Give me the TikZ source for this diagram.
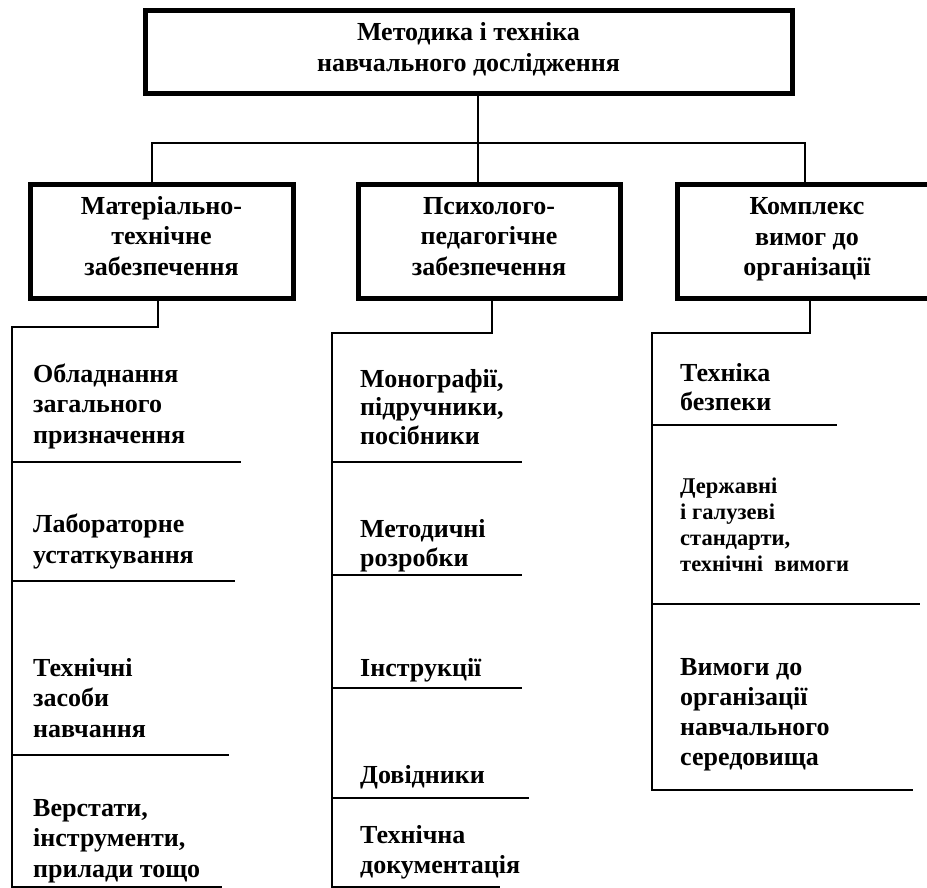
\documentclass[tikz,border=0pt]{standalone}
\usepackage{fontspec}
\setmainfont{Liberation Serif}
\begin{document}
\begin{tikzpicture}[x=1pt,y=-1pt,
  conn/.style={line width=2pt},
  bx/.style={draw,line width=5pt,inner sep=0pt,align=center,
    font=\fontsize{26}{30.5}\selectfont\bfseries},
  item/.style={anchor=base west,inner sep=0pt,align=left,
    font=\fontsize{26}{30.5}\selectfont\bfseries},
  smallitem/.style={item,font=\fontsize{22.5}{26}\selectfont\bfseries},
]
\useasboundingbox (0,0) rectangle (927,887);

% boxes (text height/depth fix the position of the last baseline)
\node[bx,minimum width=647pt,minimum height=83pt,text height=39pt,text depth=0pt] (T) at (468.5,51.5)
  {Методика і техніка\\навчального дослідження};
\node[bx,minimum width=263pt,minimum height=114pt,text height=68pt,text depth=0pt] (A) at (161.5,241)
  {Матеріально-\\технічне\\забезпечення};
\node[bx,minimum width=262pt,minimum height=114pt,text height=68pt,text depth=0pt] (B) at (489,241)
  {Психолого-\\педагогічне\\забезпечення};
\node[bx,minimum width=260pt,minimum height=114pt,text height=68pt,text depth=0pt] (C) at (807,241.5)
  {Комплекс\\вимог до\\організації};

% top bus
\coordinate (j) at (478,143);
\coordinate (ja) at (152,143);
\coordinate (jc) at (805,143);
\draw[conn] (T.south -| j) -- (j);
\draw[conn] (j) -- (B.north -| j);
\draw[conn] (A.north -| ja) -- (ja) -- (jc) -- (C.north -| jc);

% left column
\coordinate (la) at (158,327);
\coordinate (lv) at (12,327);
\coordinate (le) at (12,890);
\draw[conn] (A.south -| la) -- (la) -- (lv) -- (le);
\draw[conn] (12,462) -- (241,462);
\draw[conn] (12,581) -- (235,581);
\draw[conn] (12,755) -- (229,755);
\draw[conn] (12,886.5) -- (222,886.5);

\node[item] (a1) at (33,443) {Обладнання\\загального\\призначення};
\node[item] (a2) at (33,563) {Лабораторне\\устаткування};
\node[item] (a3) at (33,737) {Технічні\\засоби\\навчання};
\node[item] (a4) at (33,877) {Верстати,\\інструменти,\\прилади тощо};

% middle column
\coordinate (ma) at (492,333);
\coordinate (mv) at (332,333);
\coordinate (me) at (332,890);
\draw[conn] (B.south -| ma) -- (ma) -- (mv) -- (me);
\draw[conn] (332,462) -- (522,462);
\draw[conn] (332,575) -- (522,575);
\draw[conn] (332,688) -- (522,688);
\draw[conn] (332,798) -- (529,798);
\draw[conn] (332,886.5) -- (500,886.5);

\node[item,font=\fontsize{26}{28.5}\selectfont\bfseries] (b1) at (360,444) {Монографії,\\підручники,\\посібники};
\node[item,font=\fontsize{26}{28.5}\selectfont\bfseries] (b2) at (360,566) {Методичні\\розробки};
\node[item] (b3) at (360,676) {Інструкції};
\node[item] (b4) at (360,783) {Довідники};
\node[item,font=\fontsize{26}{30}\selectfont\bfseries] (b5) at (360,873) {Технічна\\документація};

% right column
\coordinate (ra) at (810,333);
\coordinate (rv) at (652,333);
\coordinate (re) at (652,791);
\draw[conn] (C.south -| ra) -- (ra) -- (rv) -- (re);
\draw[conn] (652,425) -- (837,425);
\draw[conn] (652,604) -- (920,604);
\draw[conn] (651,790) -- (913,790);

\node[item,font=\fontsize{26}{29}\selectfont\bfseries] (c1) at (680,410) {Техніка\\безпеки};
\node[smallitem] (c2) at (680,571) {Державні\\і галузеві\\стандарти,\\технічні\ \ вимоги};
\node[item,font=\fontsize{26}{30}\selectfont\bfseries] (c3) at (680,765) {Вимоги до\\організації\\навчального\\середовища};
\end{tikzpicture}
\end{document}
